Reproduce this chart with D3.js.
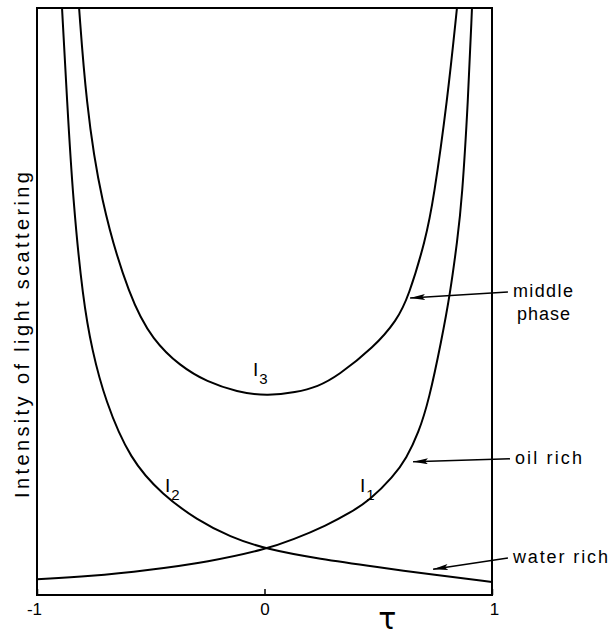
<!DOCTYPE html>
<html>
<head>
<meta charset="utf-8">
<script src="https://cdn.jsdelivr.net/npm/d3@7"></script>
<style>
  body { margin: 0; background: #fff; }
  text { font-family: "Liberation Sans", Arial, sans-serif; fill: #000; }
</style>
</head>
<body>
<div id="chart"></div>
<script>
// values (tau, relative intensity 0..100)
var tauI1 = [-1, -0.767, -0.503, -0.248, 0.007, 0.125, 0.275, 0.376, 0.464, 0.565, 0.624, 0.677, 0.723, 0.778, 0.815, 0.848, 0.868, 0.895, 0.912];
var valI1 = [2.7, 3.15, 4.26, 5.62, 7.8, 9.4, 11.9, 14.0, 16.2, 20.1, 23.3, 27.6, 33.2, 43.4, 51.1, 60.5, 67.3, 84.3, 100];

var tauI2 = [-0.890, -0.868, -0.842, -0.798, -0.758, -0.701, -0.591, -0.446, -0.297, -0.152, 0.007, 0.244, 0.495, 0.749, 1];
var valI2 = [100, 84.3, 67.3, 50.3, 41.7, 33.2, 23.0, 17.0, 12.8, 9.9, 7.8, 6.13, 4.77, 3.41, 2.21];

var tauI3 = [-0.815, -0.785, -0.723, -0.591, -0.490, -0.371, -0.253, -0.121, 0.011, 0.138, 0.235, 0.321, 0.481, 0.582, 0.633, 0.708, 0.743, 0.804, 0.846];
var valI3 = [100, 84.3, 67.3, 50.3, 43.4, 39.0, 36.3, 34.6, 33.9, 34.5, 35.5, 37.3, 42.2, 46.8, 50.8, 60.5, 67.3, 84.3, 100];

var xTicks = [-1, 0, 1];

// curve labels: name, subscript, tau, intensity
var curveLabels = [
  ["I", "1", 0.420, 17.5],
  ["I", "2", -0.437, 17.5],
  ["I", "3", -0.051, 37.3]
];

// arrows: text lines, start (tau, I), tip (tau, I)
var phaseNames = [["middle", "phase"], ["oil rich"], ["water rich"]];
var arrowFrom = [[1.070, 51.6], [1.079, 23.2], [1.070, 6.3]];
var arrowTo = [[0.640, 50.6], [0.653, 22.7], [0.741, 4.4]];
var nameWidths = [[60, 53], [67], [95]];

var width = 608, height = 635;
var mLeft = 37, mRight = 492, mTop = 8, mBottom = 595;

var svg = d3.select("#chart").append("svg")
  .attr("width", width)
  .attr("height", height);

var x = d3.scaleLinear().domain([-1, 1]).range([mLeft, mRight]);
var y = d3.scaleLinear().domain([0, 100]).range([mBottom, mTop]);

var defs = svg.append("defs");
defs.append("clipPath").attr("id", "plot")
  .append("rect")
  .attr("x", mLeft).attr("y", mTop)
  .attr("width", mRight - mLeft).attr("height", mBottom - mTop);

defs.append("marker")
  .attr("id", "head")
  .attr("viewBox", "0 0 15 6")
  .attr("refX", 15).attr("refY", 3)
  .attr("markerWidth", 15).attr("markerHeight", 6)
  .attr("markerUnits", "userSpaceOnUse")
  .attr("orient", "auto")
  .append("path")
  .attr("d", "M15,3L0,0L3,3L0,6Z")
  .attr("fill", "#000");

var line = d3.line()
  .x(function(d) { return x(d[0]); })
  .y(function(d) { return y(d[1]); })
  .curve(d3.curveBasis);

var series = [d3.zip(tauI1, valI1), d3.zip(tauI2, valI2), d3.zip(tauI3, valI3)];

svg.append("g")
  .attr("clip-path", "url(#plot)")
  .selectAll("path")
  .data(series)
  .enter()
  .append("path")
  .attr("d", line)
  .attr("fill", "none")
  .attr("stroke", "#000")
  .attr("stroke-width", 2);

// frame
svg.append("rect")
  .attr("x", mLeft).attr("y", mTop)
  .attr("width", mRight - mLeft).attr("height", mBottom - mTop)
  .attr("fill", "none")
  .attr("stroke", "#000")
  .attr("stroke-width", 2);

var xAxis = svg.append("g")
  .attr("transform", "translate(0," + mBottom + ")")
  .call(d3.axisBottom(x).tickValues(xTicks).tickSize(-6).tickPadding(8)
    .tickFormat(function(d) { return String(d); }));
xAxis.select(".domain").remove();
xAxis.selectAll(".tick line").attr("stroke", "#000").attr("stroke-width", 1.5);
xAxis.selectAll(".tick text")
  .style("font-family", "'Liberation Sans', Arial, sans-serif")
  .style("font-size", "17px")
  .attr("fill", "#000")
  .attr("dx", function(d) { return d < 0 ? -3 : (d > 0 ? 2 : 0); });

svg.append("text")
  .attr("x", x(0.54))
  .attr("y", 629)
  .attr("text-anchor", "middle")
  .style("font-family", "'DejaVu Sans', sans-serif")
  .style("font-size", "30px")
  .text("τ");

svg.append("text")
  .attr("transform", "translate(29,335) rotate(-90)")
  .attr("text-anchor", "middle")
  .attr("textLength", 326)
  .attr("lengthAdjust", "spacing")
  .style("font-size", "20px")
  .text("Intensity of light scattering");

// I1, I2, I3
var lab = svg.selectAll(".clabel")
  .data(curveLabels)
  .enter()
  .append("text")
  .attr("class", "clabel")
  .attr("x", function(d) { return x(d[2]); })
  .attr("y", function(d) { return y(d[3]); })
  .style("font-size", "19px");
lab.append("tspan").text(function(d) { return d[0]; });
lab.append("tspan")
  .attr("dx", 1).attr("dy", 8)
  .style("font-size", "15px")
  .text(function(d) { return d[1]; });

// phase arrows
svg.selectAll(".arrow")
  .data(arrowFrom)
  .enter()
  .append("line")
  .attr("class", "arrow")
  .attr("x1", function(d) { return x(d[0]); })
  .attr("y1", function(d) { return y(d[1]); })
  .attr("x2", function(d, i) { return x(arrowTo[i][0]); })
  .attr("y2", function(d, i) { return y(arrowTo[i][1]); })
  .attr("stroke", "#000")
  .attr("stroke-width", 1.5)
  .attr("marker-end", "url(#head)");

phaseNames.forEach(function(names, i) {
  names.forEach(function(name, j) {
    svg.append("text")
      .attr("x", x(arrowFrom[i][0]) + 5 + j * 4)
      .attr("y", y(arrowFrom[i][1]) + 5 + j * 23)
      .attr("textLength", nameWidths[i][j])
      .attr("lengthAdjust", "spacing")
      .style("font-size", "18px")
      .text(name);
  });
});
</script>
</body>
</html>
